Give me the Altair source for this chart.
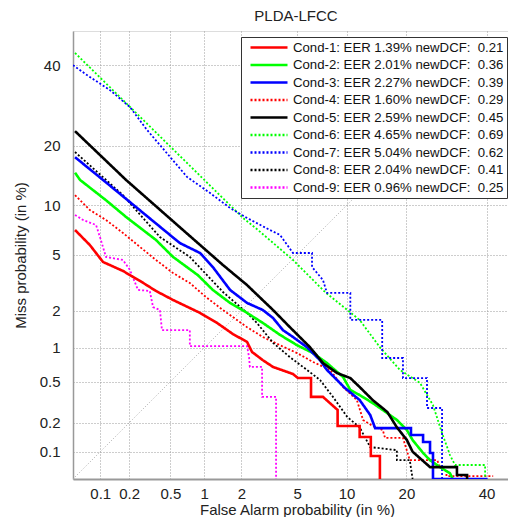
import altair as alt
import pandas as pd
from statistics import NormalDist

# ---------------- data (all values in %) ----------------
conds = ["Cond-1", "Cond-2", "Cond-3", "Cond-4", "Cond-5", "Cond-6", "Cond-7", "Cond-8", "Cond-9"]
eer = ["1.39", "2.01", "2.27", "1.60", "2.59", "4.65", "5.04", "2.04", "0.96"]
dcf = ["0.21", "0.36", "0.39", "0.29", "0.45", "0.69", "0.62", "0.41", "0.25"]
colors = ["#ff0000", "#00ff00", "#0000ff", "#ff0000", "#000000", "#00ff00", "#0000ff", "#000000", "#ff00ff"]
dotted = [False, False, False, True, False, True, True, True, True]

c1_fa = [0.0527, 0.077, 0.107, 0.173, 0.257, 0.367, 0.53, 0.92, 1.28, 1.72, 2.21, 2.41, 2.90, 3.43, 4.70, 5.07, 6.15, 6.15, 7.29, 8.9, 8.9, 11.8, 11.8, 13.5, 13.5, 15.0, 15.0]
c1_miss = [7.19, 5.80, 4.49, 3.90, 3.32, 2.81, 2.41, 1.92, 1.60, 1.30, 1.12, 0.92, 0.78, 0.68, 0.588, 0.54, 0.54, 0.36, 0.36, 0.269, 0.186, 0.186, 0.143, 0.143, 0.09, 0.09, 0.05]

c2_fa = [0.0527, 0.06, 0.115, 0.186, 0.367, 0.53, 0.88, 1.18, 1.63, 2.21, 2.90, 3.84, 5.0, 6.33, 7.70, 9.56, 10.5, 11.8, 13.8, 16.3, 18.1, 20.1, 21.3, 23.6, 25.2, 27.6, 30.1, 30.8]
c2_miss = [14.9, 13.7, 10.7, 8.6, 6.24, 4.85, 3.65, 2.86, 2.29, 1.92, 1.60, 1.28, 1.05, 0.90, 0.737, 0.552, 0.418, 0.375, 0.314, 0.25, 0.214, 0.169, 0.133, 0.097, 0.081, 0.068, 0.058, 0.05]

c3_fa = [0.0527, 0.107, 0.61, 0.92, 1.18, 1.63, 2.21, 2.90, 3.43, 4.02, 4.70, 5.80, 7.0, 7.70, 9.80, 11.8, 13.4, 14.2, 20.95, 20.95, 23.6, 23.6, 25.2, 25.2, 25.9, 25.9, 40.3]
c3_miss = [17.7, 13.7, 5.97, 5.15, 4.15, 2.86, 2.29, 2.02, 1.75, 1.40, 1.23, 1.01, 0.78, 0.64, 0.437, 0.336, 0.24, 0.177, 0.177, 0.15, 0.15, 0.127, 0.127, 0.097, 0.097, 0.05, 0.05]

c4_fa = [0.0527, 0.077, 0.115, 0.173, 0.257, 0.367, 0.53, 0.75, 1.03, 1.43, 2.21, 2.90, 3.84, 5.0, 6.33, 8.04, 9.56, 11.4, 12.3, 13.8, 15.5, 15.9, 19.3, 20.7, 26.9, 27.6, 29.2, 29.2, 41.9]
c4_miss = [11.4, 9.43, 8.26, 6.9, 5.63, 4.63, 3.77, 3.21, 2.54, 2.02, 1.48, 1.23, 1.05, 0.90, 0.753, 0.64, 0.446, 0.336, 0.214, 0.186, 0.169, 0.14, 0.14, 0.081, 0.081, 0.068, 0.068, 0.054, 0.054]

c5_fa = [0.0527, 0.186, 0.652, 1.43, 2.21, 3.43, 4.48, 6.06, 7.29, 8.83, 10.5, 11.8, 13.8, 16.3, 18.1, 20.1, 21.3, 25.2, 31.9, 31.9, 34.6, 34.6]
c5_miss = [23.1, 13.7, 7.19, 4.28, 3.10, 2.02, 1.48, 1.01, 0.737, 0.60, 0.54, 0.446, 0.336, 0.257, 0.18, 0.133, 0.10, 0.068, 0.068, 0.0555, 0.0555, 0.05]

c6_fa = [0.0527, 2.06, 2.67, 4.70, 7.50, 11.8, 15.0, 18.7, 22.9, 25.9, 28.1, 30.1, 31.4, 39.6, 39.6]
c6_miss = [43.6, 8.48, 7.19, 4.63, 2.76, 1.69, 1.01, 0.64, 0.487, 0.30, 0.157, 0.092, 0.0717, 0.0717, 0.05]

c7_fa = [0.05, 0.0717, 0.127, 0.204, 0.30, 0.50, 0.708, 1.12, 1.63, 2.21, 3.26, 3.84, 4.70, 6.24, 6.24, 7.29, 7.70, 10.5, 10.5, 15.4, 15.4, 19.3, 19.3, 24.5, 24.5, 28.1, 28.1]
c7_miss = [40.1, 37.3, 33.2, 28.8, 23.4, 17.7, 14.2, 11.7, 9.68, 8.48, 7.19, 6.70, 5.15, 5.15, 4.15, 3.37, 2.72, 2.72, 1.69, 1.69, 0.816, 0.816, 0.54, 0.54, 0.281, 0.281, 0.05]

c8_fa = [0.0527, 0.173, 0.40, 0.75, 1.43, 2.21, 2.62, 3.43, 4.48, 5.80, 7.0, 8.36, 10.1, 11.8, 13.4, 18.1, 18.1, 20.7, 21.3]
c8_miss = [18.7, 11.4, 6.51, 4.85, 2.76, 1.92, 1.60, 1.10, 0.83, 0.64, 0.518, 0.36, 0.229, 0.18, 0.112, 0.104, 0.081, 0.081, 0.05]

c9_fa = [0.0527, 0.0648, 0.09, 0.1, 0.115, 0.173, 0.204, 0.245, 0.32, 0.344, 0.40, 0.418, 0.75, 0.75, 2.21, 2.29, 2.32, 2.86, 2.86, 3.6, 3.6]
c9_miss = [8.83, 8.26, 7.71, 6.42, 4.85, 4.63, 3.96, 2.86, 2.81, 2.13, 2.02, 1.40, 1.40, 1.03, 1.03, 0.83, 0.68, 0.68, 0.36, 0.36, 0.05]

diag_pct = [0.05, 50.0]

tick_pct = [0.1, 0.2, 0.5, 1, 2, 5, 10, 20, 40]

# ---------------- build table ----------------
nd = NormalDist()
fa_lists = [c1_fa, c2_fa, c3_fa, c4_fa, c5_fa, c6_fa, c7_fa, c8_fa, c9_fa]
miss_lists = [c1_miss, c2_miss, c3_miss, c4_miss, c5_miss, c6_miss, c7_miss, c8_miss, c9_miss]
labels = [f"{c}: EER {e}% newDCF:\u00a0 {d}" for c, e, d in zip(conds, eer, dcf)]

rows = []
for k, (lab, fa, ms) in enumerate(zip(labels, fa_lists, miss_lists)):
    for i, (f, m) in enumerate(zip(fa, ms)):
        rows.append({"label": lab, "k": k, "i": i, "fa": f, "miss": m, "dotted": dotted[k]})
df = pd.DataFrame(rows)
diag_df = pd.DataFrame({"fa": diag_pct, "miss": diag_pct, "i": [0, 1]})

lo = nd.inv_cdf(0.0005)
W, H = 435, 448
x_dom = [lo, lo + (0 - lo) * W / H]
y_dom = [lo, 0.0]
tick_vals = [nd.inv_cdf(t / 100) for t in tick_pct]
lab_expr = "format(cumulativeNormal(datum.value)*100, '.1~f')"

FONT = "Liberation Sans"

def axis(title, lp, tp, dw, **kw):
    return alt.Axis(values=tick_vals, labelExpr=lab_expr, grid=True, gridDash=[1, 2],
                    gridColor="#9a9a9a", ticks=False, domainColor="#999999", domainWidth=dw,
                    labelFontSize=15, labelFont=FONT, labelColor="#222222", labelPadding=lp,
                    labelFlush=False, labelOverlap=False, title=title, titleFontSize=15,
                    titleFont=FONT, titleFontWeight="normal", titleColor="#222222",
                    titlePadding=tp, **kw)

xenc = alt.X("px:Q", scale=alt.Scale(domain=x_dom, nice=False, zero=False),
             axis=axis("False Alarm probability (in %)", 7, 1, 2, titleX=H / 2))
yenc = alt.Y("py:Q", scale=alt.Scale(domain=y_dom, nice=False, zero=False),
             axis=axis("Miss probability (in %)", 13, 11, 1.5))

calc = dict(px="quantileNormal(datum.fa/100)", py="quantileNormal(datum.miss/100)")

diag = alt.Chart(diag_df).transform_calculate(**calc).mark_line(
    color="#aaaaaa", strokeWidth=1, strokeDash=[1, 2], clip=True
).encode(x=xenc, y=yenc, order="i:Q")

leg = alt.Legend(title=None, orient="none", legendX=168, legendY=6, symbolType="stroke",
                 symbolSize=1369, symbolStrokeWidth=2.5, symbolOffset=5, labelOffset=4,
                 labelFontSize=13.2, labelFont=FONT, labelColor="#111111", labelLimit=400,
                 clipHeight=15, rowPadding=2.5, padding=3, strokeColor="#333333",
                 fillColor="#ffffff")

dashes = [[2, 2] if d else [1, 0] for d in dotted]
color_enc = alt.Color("label:N", scale=alt.Scale(domain=labels, range=colors), legend=leg, sort=labels)
dash_enc = alt.StrokeDash("label:N", scale=alt.Scale(domain=labels, range=dashes), legend=leg, sort=labels)

base = alt.Chart(df).transform_calculate(**calc)
solid = base.transform_filter("!datum.dotted").mark_line(strokeWidth=2.6, clip=True).encode(
    x=xenc, y=yenc, color=color_enc, strokeDash=dash_enc, detail="k:N", order="i:Q")
dots = base.transform_filter("datum.dotted").mark_line(strokeWidth=1.8, clip=True).encode(
    x=xenc, y=yenc, color=color_enc, strokeDash=dash_enc, detail="k:N", order="i:Q")

chart = alt.layer(diag, dots, solid).properties(
    width=W, height=H,
    title=alt.TitleParams("PLDA-LFCC", fontSize=15, font=FONT, fontWeight="normal",
                          anchor="middle", frame="group", offset=7.5, dx=5.5, color="#222222"),
    autosize=alt.AutoSizeParams(type="none"),
    padding={"left": 65, "top": 23, "right": 0, "bottom": 38},
).configure_view(stroke="#999999", strokeWidth=1).configure(font=FONT)

chart.save("out.html", embed_options={"renderer": "svg", "actions": False})
